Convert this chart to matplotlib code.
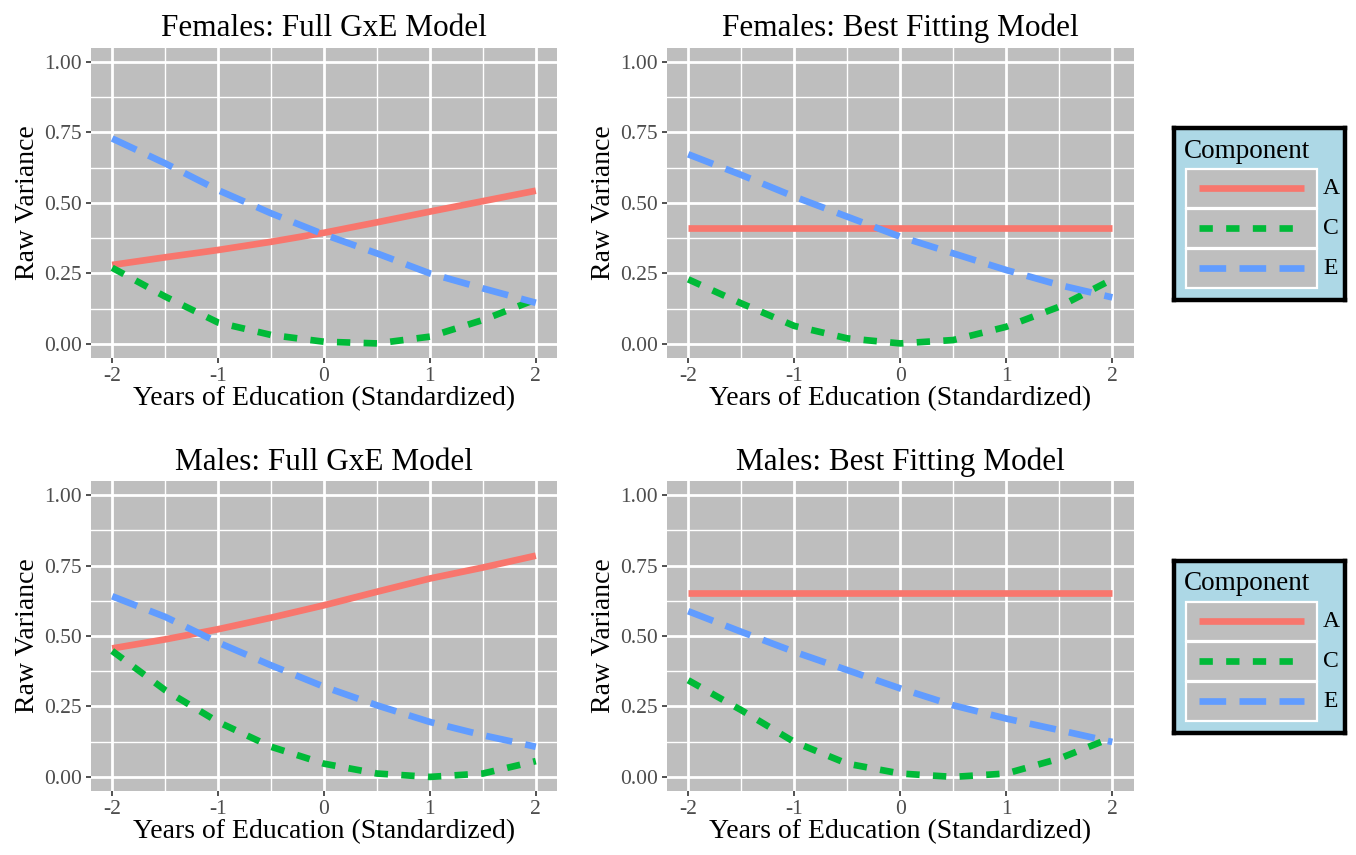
import numpy as np
import matplotlib
matplotlib.use("Agg")
import matplotlib.pyplot as plt
from matplotlib.patches import Rectangle
from matplotlib.lines import Line2D

plt.rcParams['font.family'] = ['Liberation Serif', 'DejaVu Serif']

# years of education (standardized)
edu = [-2, -1.5, -1, -0.5, 0, 0.5, 1, 1.5, 2]

# Females: Full GxE Model
fem_full_A = [0.280, 0.307, 0.333, 0.362, 0.394, 0.431, 0.469, 0.506, 0.543]
fem_full_C = [0.270, 0.168, 0.076, 0.032, 0.008, 0.002, 0.026, 0.085, 0.158]
fem_full_E = [0.728, 0.640, 0.545, 0.463, 0.388, 0.321, 0.250, 0.197, 0.146]

# Females: Best Fitting Model
fem_best_A = [0.410] * 9
fem_best_C = [0.229, 0.144, 0.064, 0.020, 0.002, 0.014, 0.061, 0.132, 0.229]
fem_best_E = [0.672, 0.599, 0.522, 0.451, 0.380, 0.321, 0.262, 0.209, 0.165]

# Males: Full GxE Model
mal_full_A = [0.456, 0.488, 0.524, 0.565, 0.609, 0.657, 0.704, 0.743, 0.785]
mal_full_C = [0.447, 0.308, 0.195, 0.107, 0.047, 0.012, 0.000, 0.012, 0.056]
mal_full_E = [0.641, 0.568, 0.477, 0.396, 0.320, 0.254, 0.195, 0.148, 0.107]

# Males: Best Fitting Model
mal_best_A = [0.651] * 9
mal_best_C = [0.343, 0.237, 0.124, 0.047, 0.012, 0.000, 0.012, 0.065, 0.140]
mal_best_E = [0.588, 0.515, 0.444, 0.379, 0.314, 0.254, 0.207, 0.166, 0.124]

titles = ["Females: Full GxE Model", "Females: Best Fitting Model",
          "Males: Full GxE Model", "Males: Best Fitting Model"]
panels = [(fem_full_A, fem_full_C, fem_full_E), (fem_best_A, fem_best_C, fem_best_E),
          (mal_full_A, mal_full_C, mal_full_E), (mal_best_A, mal_best_C, mal_best_E)]
components = ["A", "C", "E"]

colors = ["#F8766D", "#00BA38", "#619CFF"]
dashes = [None, (2, 2), (4, 2)]
LW = 4.8
BG = "#BEBEBE"

W, H = 1356, 855
fig = plt.figure(figsize=(W / 100, H / 100), dpi=100)

# axes boxes in pixels: left, top, right, bottom
boxes = [(91, 47.6, 557, 358.1), (667, 47.6, 1133.5, 358.1),
         (91, 481, 557, 791), (667, 481, 1133.5, 791)]

for box, title, series in zip(boxes, titles, panels):
    l, t, r, b = box
    ax = fig.add_axes([l / W, 1 - b / H, (r - l) / W, (b - t) / H])
    ax.set_facecolor(BG)
    for s in ax.spines.values():
        s.set_visible(False)
    ax.set_xlim(-2.2, 2.2)
    ax.set_ylim(-0.05, 1.05)
    ax.set_xticks([-2, -1, 0, 1, 2])
    ax.set_xticklabels(["-2", "-1", "0", "1", "2"])
    ax.set_yticks([0, 0.25, 0.5, 0.75, 1.0])
    ax.set_yticklabels(["0.00", "0.25", "0.50", "0.75", "1.00"])
    ax.set_xticks([-1.5, -0.5, 0.5, 1.5], minor=True)
    ax.set_yticks([0.125, 0.375, 0.625, 0.875], minor=True)
    ax.grid(which="major", color="white", lw=2.0)
    ax.grid(which="minor", color="white", lw=1.0)
    ax.set_axisbelow(True)
    ax.tick_params(which="major", length=3.5, width=1.2, color="#333333",
                   labelcolor="#4D4D4D", labelsize=15.5, pad=3)
    ax.tick_params(which="minor", length=0)
    for y, c, d in zip(series, colors, dashes):
        line, = ax.plot(edu, y, color=c, lw=LW, solid_capstyle="butt",
                        dash_capstyle="butt")
        if d is not None:
            line.set_dashes(d)
    ax.set_title(title, fontsize=22.5, pad=8)
    ax.set_xlabel("Years of Education (Standardized)", fontsize=20, labelpad=0)
    ax.set_ylabel("Raw Variance", fontsize=20, labelpad=3)

# legends (one per row), drawn ggplot style
for top in [128, 561]:
    lw_, lh_ = 171, 172
    lax = fig.add_axes([1174 / W, 1 - (top + lh_) / H, lw_ / W, lh_ / H])
    lax.set_facecolor("#ADD8E6")
    lax.set_xlim(0, lw_)
    lax.set_ylim(lh_, 0)
    lax.set_xticks([])
    lax.set_yticks([])
    for s in lax.spines.values():
        s.set_linewidth(3.2)
        s.set_color("black")
    lax.text(10, 23, "Component", fontsize=19.5, va="center", ha="left")
    rows = [(41, 80), (81, 120), (121, 160)]
    for (y0, y1), c, d, name in zip(rows, colors, dashes, components):
        lax.add_patch(Rectangle((12, y0), 131, y1 - y0, facecolor=BG,
                                edgecolor="white", lw=1.6))
        ym = (y0 + y1) / 2
        ln = Line2D([25, 130], [ym, ym], color=c, lw=LW, solid_capstyle="butt",
                    dash_capstyle="butt")
        if d is not None:
            ln.set_dashes(d)
        lax.add_line(ln)
        lax.text(157, ym, name, fontsize=17, va="center", ha="center")

fig.savefig("out.png", dpi=100)
